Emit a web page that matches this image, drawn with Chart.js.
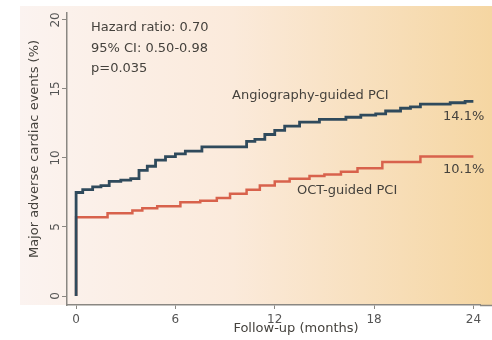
<!DOCTYPE html>
<html>
<head>
<meta charset="utf-8">
<script src="https://cdn.jsdelivr.net/npm/chart.js@4.4.1/dist/chart.umd.min.js"></script>
<style>
  html, body { margin: 0; padding: 0; background: #fff; }
  #wrap { width: 492px; height: 340px; position: relative; }
</style>
</head>
<body>
<div id="wrap"><canvas id="km"></canvas></div>
<script>
// Kaplan-Meier steps (months, cumulative %)
const angioMonths = [0, 0, 0.4, 1.0, 1.5, 2.0, 2.7, 3.3, 3.8, 4.3, 4.8, 5.4, 6.0, 6.6, 7.6, 10.3, 10.8, 11.4, 12.0, 12.6, 13.5, 14.7, 16.3, 17.2, 18.1, 18.7, 19.6, 20.2, 20.8, 22.6, 23.5, 24];
const angioValues = [0, 7.5, 7.7, 7.9, 8.0, 8.3, 8.4, 8.5, 9.1, 9.4, 9.85, 10.1, 10.3, 10.5, 10.8, 11.2, 11.35, 11.7, 12.0, 12.3, 12.6, 12.8, 12.95, 13.1, 13.2, 13.4, 13.6, 13.7, 13.9, 14.0, 14.1, 14.1];
const octMonths = [0, 0, 1.9, 3.4, 4.0, 4.9, 6.3, 7.5, 8.5, 9.3, 10.3, 11.1, 12.0, 12.9, 14.1, 15.0, 16.0, 17.0, 18.5, 20.8, 24];
const octValues = [0, 5.7, 6.0, 6.2, 6.35, 6.5, 6.8, 6.9, 7.1, 7.4, 7.7, 8.0, 8.3, 8.5, 8.7, 8.8, 9.0, 9.25, 9.7, 10.1, 10.1];

const xTicks = [0, 6, 12, 18, 24];
const yTicks = [0, 5, 10, 15, 20];

const statLines = ['Hazard ratio: 0.70', '95% CI: 0.50-0.98', 'p=0.035'];
const seriesNames = ['Angiography-guided PCI', 'OCT-guided PCI'];
const endLabels = ['14.1%', '10.1%'];
const xTitle = 'Follow-up (months)';
const yTitle = 'Major adverse cardiac events (%)';

const FONT = '"DejaVu Sans", sans-serif';
const TEXT = '#45423d';
const AXIS = '#8a8782';

function pts(xs, ys) {
  return xs.map((m, i) => ({x: m, y: ys[i]}));
}

const backdrop = {
  id: 'backdrop',
  beforeDraw(chart) {
    const ctx = chart.ctx;
    const g = ctx.createLinearGradient(20, 0, 492, 0);
    g.addColorStop(0, '#fbf3f0');
    g.addColorStop(0.45, '#fbeadb');
    g.addColorStop(1, '#f5d6a2');
    ctx.save();
    ctx.fillStyle = g;
    ctx.fillRect(20, 6, 472, chart.chartArea.bottom - 6);
    // x axis line runs on to the right edge
    ctx.strokeStyle = AXIS;
    ctx.lineWidth = 1.5;
    ctx.beginPath();
    ctx.moveTo(chart.chartArea.right, chart.chartArea.bottom + 0.5);
    ctx.lineTo(492, chart.chartArea.bottom + 0.5);
    ctx.stroke();
    ctx.restore();
  }
};

const notes = {
  id: 'notes',
  afterDatasetsDraw(chart) {
    const ctx = chart.ctx;
    ctx.save();
    ctx.fillStyle = TEXT;
    ctx.textBaseline = 'middle';
    ctx.font = '13px ' + FONT;
    statLines.forEach((s, i) => ctx.fillText(s, 91, 28 + i * 20.5));
    ctx.fillText(seriesNames[0], 232, 96);
    ctx.fillText(seriesNames[1], 297, 191);
    ctx.fillText(endLabels[0], 443, 117);
    ctx.fillText(endLabels[1], 443, 170);
    // axis titles
    ctx.textAlign = 'center';
    ctx.fillText(xTitle, 296, 329);
    ctx.translate(35, 149);
    ctx.rotate(-Math.PI / 2);
    ctx.fillText(yTitle, 0, 0);
    ctx.restore();
  }
};

new Chart(document.getElementById('km'), {
  type: 'scatter',
  data: {
    datasets: [
      {
        label: seriesNames[0],
        data: pts(angioMonths, angioValues),
        showLine: true,
        stepped: true,
        borderColor: '#2f4a5c',
        borderWidth: 2.8,
        pointRadius: 0
      },
      {
        label: seriesNames[1],
        data: pts(octMonths, octValues),
        showLine: true,
        stepped: true,
        borderColor: '#d8624c',
        borderWidth: 2.5,
        pointRadius: 0
      }
    ]
  },
  options: {
    responsive: true,
    maintainAspectRatio: false,
    animation: false,
    layout: { padding: { top: 13, right: 12, left: 0, bottom: 0 } },
    plugins: { legend: { display: false }, tooltip: { enabled: false } },
    scales: {
      x: {
        type: 'linear',
        min: -0.55,
        max: 24.4,
        afterBuildTicks: s => { s.ticks = xTicks.map(v => ({value: v})); },
        afterFit: s => { s.height = 35; },
        grid: { display: true, drawOnChartArea: false, tickLength: 4, color: AXIS },
        border: { display: true, color: AXIS, width: 1.5 },
        ticks: { color: '#555', font: { family: FONT, size: 12 }, padding: 4, maxRotation: 0 }
      },
      y: {
        min: -0.65,
        max: 20.5,
        afterBuildTicks: s => { s.ticks = yTicks.map(v => ({value: v})); },
        afterFit: s => { s.width = 67; },
        grid: { display: true, drawOnChartArea: false, tickLength: 5, color: AXIS },
        border: { display: true, color: AXIS, width: 1.5 },
        ticks: { color: '#555', font: { family: FONT, size: 12 }, padding: -2, minRotation: 90, maxRotation: 90, crossAlign: 'center' }
      }
    }
  },
  plugins: [backdrop, notes]
});
</script>
</body>
</html>
